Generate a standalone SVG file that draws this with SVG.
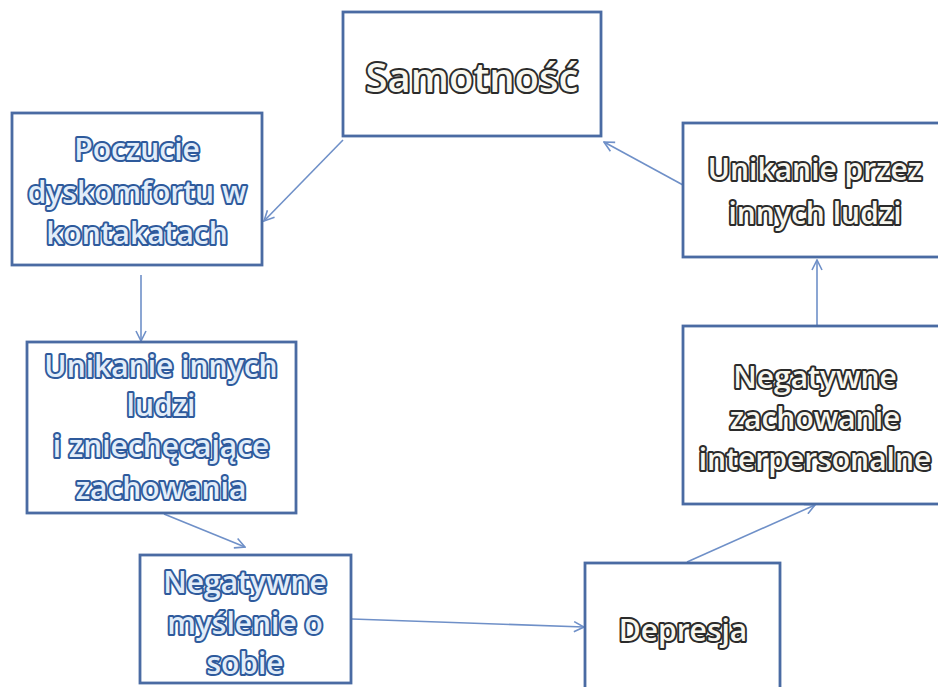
<svg xmlns="http://www.w3.org/2000/svg" width="938" height="687" viewBox="0 0 938 687">
<defs>
<style>
.box{fill:#ffffff;stroke:#4a6ba3;stroke-width:2.8}
.t{font-family:"Open Sans","Liberation Sans",sans-serif;font-weight:600;text-anchor:middle;paint-order:stroke;stroke-linejoin:round}
.blue{fill:#e2edf9;stroke:#2e5a9c;stroke-width:4}
.dark{fill:#f8f7ef;stroke:#2b2b2b;stroke-width:4}
.c{fill:none;stroke:#6f90c8;stroke-width:1.6;marker-end:url(#ah)}
</style>
<marker id="ah" viewBox="0 0 12 12" refX="11" refY="6" markerWidth="12" markerHeight="12" markerUnits="userSpaceOnUse" orient="auto">
<path d="M1,1 L11,6 L1,11" fill="none" stroke="#6f90c8" stroke-width="1.6"/>
</marker>
</defs>
<rect width="938" height="687" fill="#ffffff"/>
<g id="connectors">
<line class="c" x1="343" y1="140" x2="264" y2="221"/>
<line class="c" x1="141" y1="275" x2="141" y2="341"/>
<line class="c" x1="164" y1="514" x2="245" y2="547"/>
<line class="c" x1="352" y1="619" x2="584" y2="627"/>
<line class="c" x1="687" y1="562" x2="815" y2="505"/>
<line class="c" x1="817" y1="325" x2="817" y2="260"/>
<line class="c" x1="683" y1="185" x2="604" y2="142"/>
</g>
<g id="samotnosc">
<rect class="box" x="343" y="12" width="258" height="124"/>
<text class="t dark" x="472" y="92" font-size="40">Samotność</text>
</g>
<g id="poczucie">
<rect class="box" x="12" y="113" width="250" height="152"/>
<text class="t blue" font-size="30"><tspan x="137" y="160">Poczucie</tspan><tspan x="137" y="203">dyskomfortu w</tspan><tspan x="137" y="244">kontakatach</tspan></text>
</g>
<g id="unikanie-innych">
<rect class="box" x="27" y="342" width="269" height="171"/>
<text class="t blue" font-size="30"><tspan x="161" y="377">Unikanie innych</tspan><tspan x="161" y="416">ludzi</tspan><tspan x="161" y="457">i zniechęcające</tspan><tspan x="161" y="499">zachowania</tspan></text>
</g>
<g id="negatywne-myslenie">
<rect class="box" x="140" y="555" width="211" height="128"/>
<text class="t blue" font-size="30"><tspan x="245" y="593">Negatywne</tspan><tspan x="245" y="634">myślenie o</tspan><tspan x="245" y="674">sobie</tspan></text>
</g>
<g id="depresja">
<rect class="box" x="585" y="563" width="195" height="140"/>
<text class="t dark" x="683" y="641" font-size="30">Depresja</text>
</g>
<g id="negatywne-zachowanie">
<rect class="box" x="683" y="326" width="265" height="178"/>
<text class="t dark" font-size="30"><tspan x="815" y="388">Negatywne</tspan><tspan x="815" y="429">zachowanie</tspan><tspan x="815" y="470">interpersonalne</tspan></text>
</g>
<g id="unikanie-przez">
<rect class="box" x="683" y="123" width="265" height="134"/>
<text class="t dark" font-size="30"><tspan x="815" y="180">Unikanie przez</tspan><tspan x="815" y="224">innych ludzi</tspan></text>
</g>
</svg>
